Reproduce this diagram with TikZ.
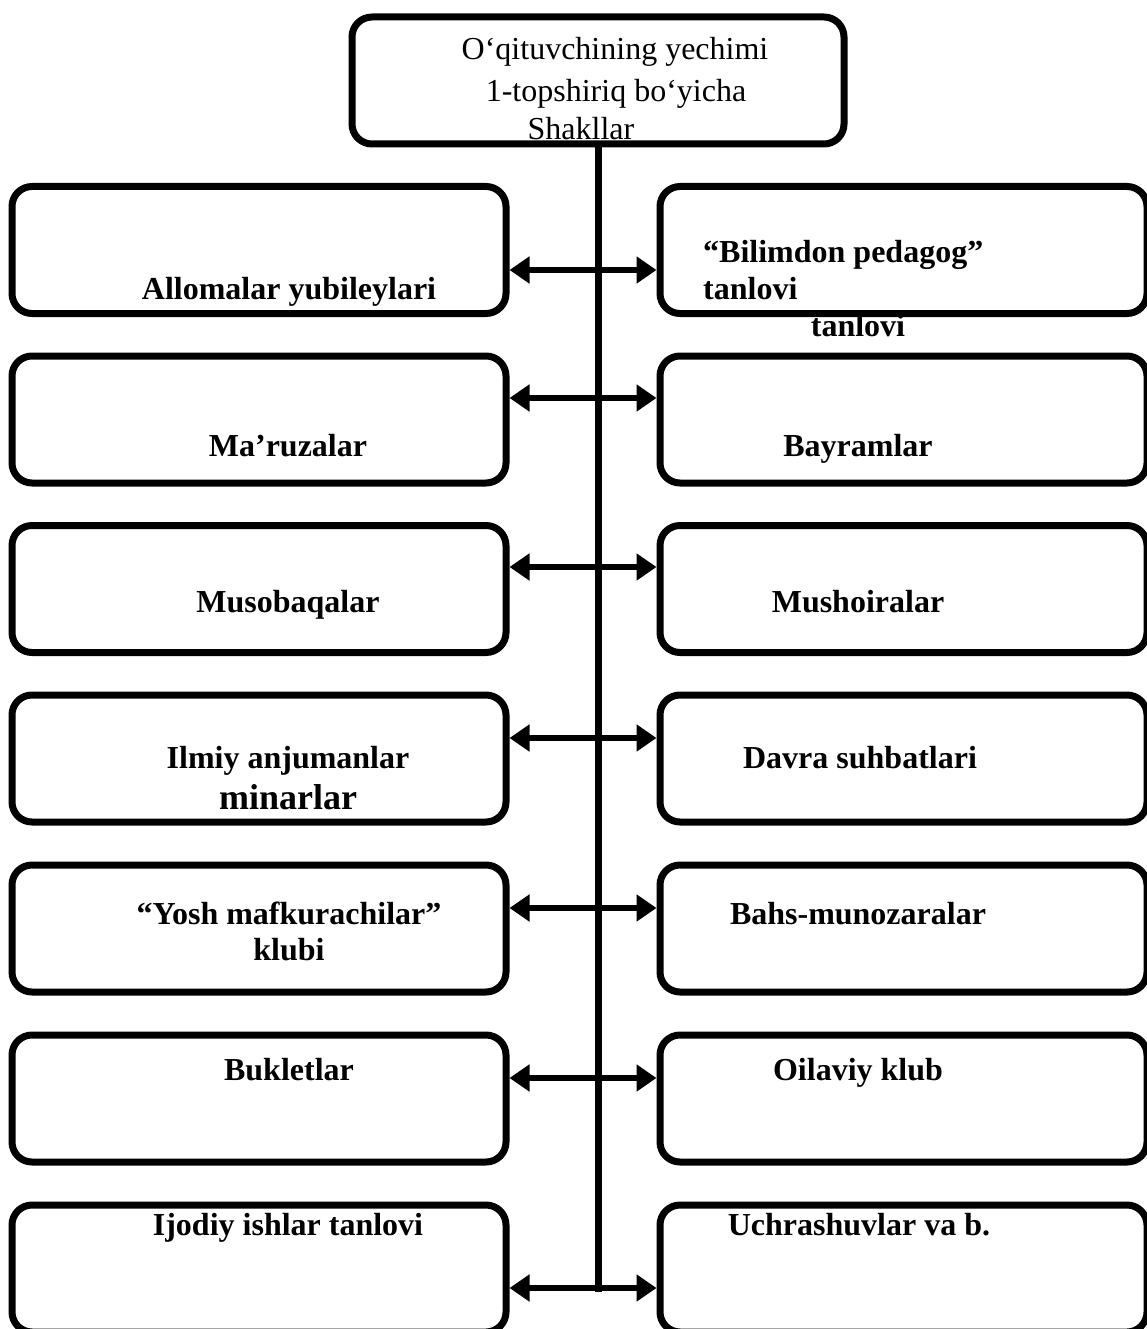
\documentclass[tikz,border=0pt]{standalone}
\usepackage{fontspec}
\setmainfont{Liberation Serif}
\usetikzlibrary{arrows.meta}
\begin{document}
\begin{tikzpicture}[x=1pt,y=-1pt,
  box/.style={draw, line width=7pt, rounded corners=20pt, minimum height=127pt, inner sep=0pt},
  lbox/.style={box, minimum width=494pt},
  rbox/.style={box, minimum width=487pt},
  lbl/.style={anchor=base, inner sep=0pt, font=\fontsize{32}{38}\selectfont\bfseries},
  ttl/.style={anchor=base, inner sep=0pt, font=\fontsize{32}{38}\selectfont},
  dbl/.style={line width=6.5pt, {Triangle[length=20pt,width=26pt]}-{Triangle[length=20pt,width=26pt]}},
  trunk/.style={line width=7pt}]
\path[use as bounding box, clip] (0,0) rectangle (1147,1329);
% top box
\node[box, minimum width=492pt] (T) at (598,80.5) {};
\node[ttl] (t1) at (615,60) {O‘qituvchining yechimi};
\node[ttl] (t2) at (616,102) {1-topshiriq bo‘yicha};
\node[ttl] (t3) at (581,140) {Shakllar};
% left boxes
\node[lbox] (L1) at (259,250) {};
\node[lbox] (L2) at (259,419.5) {};
\node[lbox] (L3) at (259,589) {};
\node[lbox] (L4) at (259,758.5) {};
\node[lbox] (L5) at (259,928.5) {};
\node[lbox] (L6) at (259,1098.5) {};
\node[lbox] (L7) at (259,1268.5) {};
% right boxes
\node[rbox] (R1) at (903.5,250) {};
\node[rbox] (R2) at (903.5,419.5) {};
\node[rbox] (R3) at (903.5,589) {};
\node[rbox] (R4) at (903.5,758.5) {};
\node[rbox] (R5) at (903.5,928.5) {};
\node[rbox] (R6) at (903.5,1098.5) {};
\node[rbox] (R7) at (903.5,1268.5) {};
% left labels
\node[lbl] (l1) at (289,300) {Allomalar yubileylari};
\node[lbl] (l2) at (288,456) {Ma’ruzalar};
\node[lbl] (l3) at (288,612) {Musobaqalar};
\node[lbl] (l4a) at (288,768) {Ilmiy anjumanlar};
\node[lbl, font=\fontsize{36}{42}\selectfont\bfseries] (l4b) at (288,809) {minarlar};
\node[lbl] (l5a) at (289,924) {“Yosh mafkurachilar”};
\node[lbl] (l5b) at (289,960) {klubi};
\node[lbl] (l6) at (289,1080) {Bukletlar};
\node[lbl] (l7) at (288,1235) {Ijodiy ishlar tanlovi};
% right labels
\node[lbl, anchor=base west] (r1a) at (703,263) {“Bilimdon pedagog”};
\node[lbl, anchor=base west] (r1b) at (703,299) {tanlovi};
\node[lbl] (r1c) at (858,336) {tanlovi};
\node[lbl] (r2) at (858,456) {Bayramlar};
\node[lbl] (r3) at (858,612) {Mushoiralar};
\node[lbl] (r4) at (860,768) {Davra suhbatlari};
\node[lbl] (r5) at (858,924) {Bahs-munozaralar};
\node[lbl] (r6) at (858,1080) {Oilaviy klub};
\node[lbl] (r7) at (859,1235) {Uchrashuvlar va b.};
% connector rows
\coordinate (a1) at (598,270);
\coordinate (a2) at (598,398);
\coordinate (a3) at (598,567);
\coordinate (a4) at (598,738);
\coordinate (a5) at (598,908);
\coordinate (a6) at (598,1078);
\coordinate (a7) at (598,1288);
\draw[trunk] (T.south) -- ([yshift=-3.5pt]a7);
\foreach \i in {1,...,7}{
  \draw[dbl] (a\i -| L\i.east) -- (a\i -| R\i.west);
}
\end{tikzpicture}
\end{document}
